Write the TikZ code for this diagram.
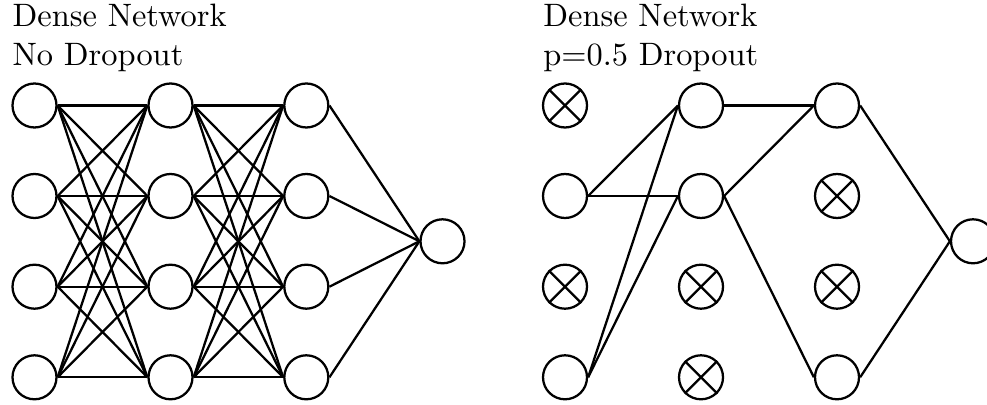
\documentclass[tikz,border=0pt]{standalone}
\begin{document}
\begin{tikzpicture}[x=0.3086pt,y=-0.3086pt,
  neuron/.style={circle,draw,line width=0.7pt,minimum size=44*0.3086pt,inner sep=0pt},
  link/.style={line width=0.7pt},
  caption/.style={anchor=base west,inner sep=0pt}]
\useasboundingbox (0,0) rectangle (987,405);
\clip (0,0) rectangle (987,405);

% ---------- dense network, no dropout ----------
\node[caption] (tl1) at (12,27) {Dense Network};
\node[caption] (tl2) at (12,66) {No Dropout};
\foreach \c/\x in {1/34.5,2/170.5,3/306.3}
  \foreach \r/\y in {1/105.5,2/196,3/286.7,4/377.3}
    \node[neuron] (a\c\r) at (\x,\y) {};
\node[neuron] (aout) at (442.5,241.3) {};
\foreach \i in {1,...,4}
  \foreach \j in {1,...,4} {
    \draw[link] (a1\i.east) -- (a2\j.west);
    \draw[link] (a2\i.east) -- (a3\j.west);
  }
\foreach \i in {1,...,4}
  \draw[link] (a3\i.east) -- (aout.west);

% ---------- dense network, p=0.5 dropout ----------
\node[caption] (tr1) at (542.7,27) {Dense Network};
\node[caption] (tr2) at (542.7,66) {p=0.5 Dropout};
\foreach \c/\x in {1/565,2/701,3/837}
  \foreach \r/\y in {1/105.5,2/196,3/286.7,4/377.3}
    \node[neuron] (b\c\r) at (\x,\y) {};
\node[neuron] (bout) at (973,241.3) {};
% dropped units
\foreach \n in {b11,b13,b23,b24,b32,b33} {
  \draw[link] (\n.north east) -- (\n.south west);
  \draw[link] (\n.north west) -- (\n.south east);
}
% remaining connections
\draw[link] (b12.east) -- (b21.west);
\draw[link] (b12.east) -- (b22.west);
\draw[link] (b14.east) -- (b21.west);
\draw[link] (b14.east) -- (b22.west);
\draw[link] (b21.east) -- (b31.west);
\draw[link] (b22.east) -- (b31.west);
\draw[link] (b22.east) -- (b34.west);
\draw[link] (b31.east) -- (bout.west);
\draw[link] (b34.east) -- (bout.west);
\end{tikzpicture}
\end{document}
